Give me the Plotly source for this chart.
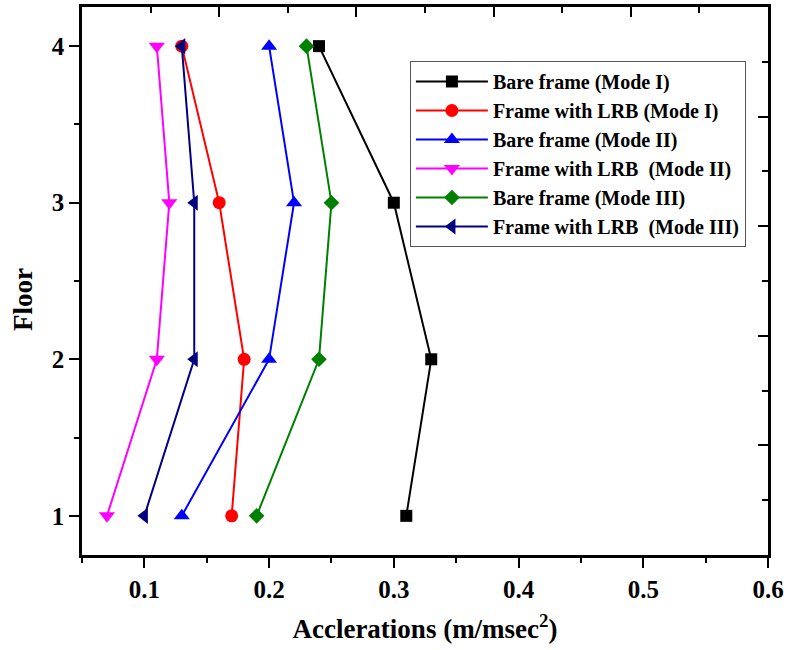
import plotly.graph_objects as go

# Floor levels (y) and peak accelerations (x) per case
floors = [1, 2, 3, 4]

bare_mode1 = [0.31, 0.33, 0.30, 0.24]
lrb_mode1 = [0.17, 0.18, 0.16, 0.13]
bare_mode2 = [0.13, 0.20, 0.22, 0.20]
lrb_mode2 = [0.07, 0.11, 0.12, 0.11]
bare_mode3 = [0.19, 0.24, 0.25, 0.23]
lrb_mode3 = [0.10, 0.14, 0.14, 0.13]

series_names = [
    "Bare frame (Mode I)",
    "Frame with LRB (Mode I)",
    "Bare frame (Mode II)",
    "Frame with LRB\u00a0 (Mode II)",
    "Bare frame (Mode III)",
    "Frame with LRB\u00a0 (Mode III)",
]
series_values = [bare_mode1, lrb_mode1, bare_mode2, lrb_mode2, bare_mode3, lrb_mode3]
series_colors = ["#000000", "#FF0000", "#0000FF", "#FF00FF", "#008000", "#000080"]
series_symbols = ["square", "circle", "triangle-up", "triangle-down", "diamond", "triangle-left"]
series_sizes = [12, 13, 14, 14, 12, 14]

x_ticks = [0.1, 0.2, 0.3, 0.4, 0.5, 0.6]
y_ticks = [1, 2, 3, 4]

FONT = "Liberation Serif, Times New Roman, serif"

fig = go.Figure()

for name, vals, col, sym, sz in zip(series_names, series_values, series_colors,
                                    series_symbols, series_sizes):
    fig.add_trace(go.Scatter(
        x=vals, y=floors, name=name, mode="lines+markers",
        line=dict(color=col, width=2),
        marker=dict(symbol=sym, size=sz, color=col, line=dict(width=0)),
    ))

# empty traces so the secondary (frame) axes are drawn
fig.add_trace(go.Scatter(x=[], y=[], xaxis="x2", yaxis="y", showlegend=False, hoverinfo="skip"))
fig.add_trace(go.Scatter(x=[], y=[], xaxis="x", yaxis="y2", showlegend=False, hoverinfo="skip"))

tick_font = dict(family=FONT, size=25, color="black", weight="bold")

fig.update_layout(
    width=791, height=650,
    margin=dict(l=82, r=23, t=7, b=95),
    paper_bgcolor="white", plot_bgcolor="white",
    font=dict(family=FONT, color="black"),
    xaxis=dict(
        range=[0.05, 0.6], tickvals=x_ticks, ticktext=[f"{v:.1f}" for v in x_ticks],
        ticks="outside", ticklen=10, tickwidth=2, tickcolor="black",
        minor=dict(dtick=0.05, tick0=0, ticks="outside", ticklen=5, tickwidth=2, tickcolor="black"),
        showline=True, linewidth=2.5, linecolor="black", showgrid=False, zeroline=False,
        tickfont=tick_font,
        title=dict(text="<b>Acclerations (m/msec<sup>2</sup>)</b>",
                   font=dict(family=FONT, size=27, color="black"), standoff=18),
    ),
    yaxis=dict(
        range=[0.75, 4.25], tickvals=y_ticks,
        ticks="outside", ticklen=10, tickwidth=2, tickcolor="black",
        minor=dict(dtick=0.5, tick0=0, ticks="outside", ticklen=5, tickwidth=2, tickcolor="black"),
        showline=True, linewidth=2.5, linecolor="black", showgrid=False, zeroline=False,
        tickfont=tick_font,
    ),
    xaxis2=dict(
        overlaying="x", side="top", anchor="y", range=[0, 5], dtick=1, tick0=0,
        ticks="inside", ticklen=10, tickwidth=2, tickcolor="black", showticklabels=False,
        minor=dict(dtick=0.5, tick0=0, ticks="inside", ticklen=6, tickwidth=2, tickcolor="black"),
        showline=True, linewidth=2.5, linecolor="black", showgrid=False, zeroline=False,
    ),
    yaxis2=dict(
        overlaying="y", side="right", anchor="x", range=[0, 5], dtick=1, tick0=0,
        ticks="inside", ticklen=10, tickwidth=2, tickcolor="black", showticklabels=False,
        minor=dict(dtick=0.5, tick0=0, ticks="inside", ticklen=6, tickwidth=2, tickcolor="black"),
        showline=True, linewidth=2.5, linecolor="black", showgrid=False, zeroline=False,
    ),
    legend=dict(
        x=0.478, y=0.9015, xanchor="left", yanchor="top",
        bgcolor="white", bordercolor="#555555", borderwidth=1,
        font=dict(family=FONT, size=20, color="black", weight="bold"),
        itemwidth=72, tracegroupgap=0,
    ),
    annotations=[dict(
        text="<b>Floor</b>", xref="paper", yref="paper", x=-0.086, y=0.4653,
        xanchor="center", yanchor="middle", textangle=-90, showarrow=False,
        font=dict(family=FONT, size=27, color="black"),
    )],
    showlegend=True,
)

fig.write_html("out.html")
